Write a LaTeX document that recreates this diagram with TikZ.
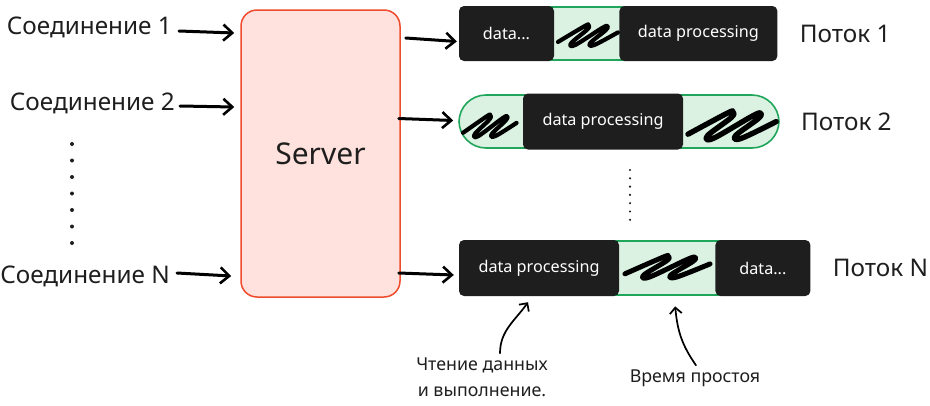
\documentclass[tikz,border=0pt]{standalone}
\usepackage{fontspec}
\setmainfont{Noto Sans}
\usetikzlibrary{arrows.meta,positioning,fit,calc,backgrounds}
\definecolor{Ink}{RGB}{30,30,30}
\definecolor{ServerFill}{RGB}{255,226,221}
\definecolor{ServerLine}{RGB}{238,76,44}
\definecolor{IdleFill}{RGB}{219,242,227}
\definecolor{IdleLine}{RGB}{32,166,90}
\tikzset{
  lbl/.style={font=\fontsize{24.3}{28}\selectfont,text=Ink,inner sep=2pt},
  notelbl/.style={font=\fontsize{17.8}{26}\selectfont,text=Ink,align=center,inner sep=2pt},
  serverbox/.style={fill=ServerFill,draw=ServerLine,line width=1.5pt,rounded corners=16pt,minimum width=159pt,minimum height=287pt,font=\fontsize{30}{36}\selectfont,text=Ink},
  darkbox/.style={fill=Ink,rounded corners=5pt,text=white,font=\fontsize{16.2}{19}\selectfont,minimum height=55pt,inner sep=0pt},
  lanepill/.style={fill=IdleFill,draw=IdleLine,line width=1.6pt,rounded corners=27pt,minimum width=320pt,minimum height=53pt,inner sep=0pt},
  idlegap/.style={fill=IdleFill,inner xsep=6pt,inner ysep=0pt},
  idleedge/.style={draw=IdleLine,line width=2pt},
  hand/.style={line width=3pt,line cap=round,-{Straight Barb[length=9pt,width=16pt,line width=2.6pt]}},
  notearrow/.style={line width=1.7pt,line cap=round,-{Straight Barb[length=6pt,width=12pt]}},
  scribline/.style={line width=4.2pt,line cap=round,line join=round},
  scribble/.pic={\draw[scribline] plot[smooth,tension=0.6] coordinates {(0,18) (28,3) (32,2) (31,6) (14,19) (18,21) (46,5) (52,3) (50,7) (34,19) (38,21) (63,9)};}
}
\begin{document}
\begin{tikzpicture}[x=1pt,y=-1pt]
\useasboundingbox (0,0) rectangle (930,405);

% connections and server
\node[lbl,anchor=east] (c1) at (174,27) {Соединение 1};
\node[lbl,anchor=east] (c2) at (177,103) {Соединение 2};
\node[lbl,anchor=east] (cN) at (172,276) {Соединение N};
\foreach \i in {0,...,6}
  \fill[Ink] (72,144+16.5*\i) circle (2);
\node[serverbox] (server) at (320.5,153.5) {Server};

% threads
\node[darkbox,minimum width=95pt] (t1read) at (506.5,33.5) {data...};
\node[darkbox,minimum width=158pt,right=65pt of t1read] (t1proc) {data processing};
\node[lanepill] (t2lane) at (619,121.5) {};
\node[darkbox,minimum width=160pt,minimum height=56pt] (t2proc) at ([xshift=-16pt]t2lane.center) {data processing};
\node[darkbox,minimum width=160pt,minimum height=56pt] (tNproc) at (539,268) {data processing};
\node[darkbox,minimum width=95pt,minimum height=56pt,right=96pt of tNproc] (tNdata) {data...};
\begin{scope}[on background layer]
  \node[idlegap,fit=(t1read.north east)(t1proc.south west)] (t1gap) {};
  \node[idlegap,fit=(tNproc.north east)(tNdata.south west)] (tNgap) {};
  \draw[idleedge] ([yshift=-1pt]t1gap.north west) -- ([yshift=-1pt]t1gap.north east);
  \draw[idleedge] ([yshift=1pt]t1gap.south west) -- ([yshift=1pt]t1gap.south east);
  \draw[idleedge] ([yshift=-1pt]tNgap.north west) -- ([yshift=-1pt]tNgap.north east);
  \draw[idleedge] ([yshift=1pt]tNgap.south west) -- ([yshift=1pt]tNgap.south east);
\end{scope}
\pic[xscale=0.95,yscale=1.05] at (558,23) {scribble};
\pic[xscale=0.85,yscale=1.1] at (463,113) {scribble};
\pic[xscale=1.4,yscale=1.4,scribline/.append style={line width=5.4pt}] at (688,109) {scribble};
\pic[xscale=1.35,yscale=1.1,scribline/.append style={line width=5pt}] at (625,254) {scribble};
\foreach \i in {0,...,6}
  \fill[Ink] (630,170+8.3*\i) circle (1.2);

\node[lbl,right=20pt of t1proc] (p1) {Поток 1};
\node[lbl,right=19pt of t2lane] (p2) {Поток 2};
\node[lbl,right=20pt of tNdata] (pN) {Поток N};

% arrows in
\draw[hand] ($(c1.east)+(5pt,-4pt)$) -- ($(server.west |- c1.east)+(-6pt,-6pt)$);
\draw[hand] ($(c2.east)+(3pt,-3pt)$) -- ($(server.west |- c2.east)+(-6pt,-4pt)$);
\draw[hand] ($(cN.east)+(5pt,3pt)$) -- ($(server.west |- cN.east)+(-9pt,0pt)$);
% arrows out
\draw[hand] ($(server.east |- t1read.west)+(5pt,-4.5pt)$) -- ($(t1read.west)+(-2pt,-8pt)$);
\draw[hand] ($(server.east |- t2lane.west)+(-2pt,3pt)$) -- ($(t2lane.west)+(-5pt,1pt)$);
\draw[hand] ($(server.east |- tNproc.west)+(-2pt,-5pt)$) -- ($(tNproc.west)+(-5pt,-7pt)$);

% notes
\node[notelbl] (readlbl) at (482,377) {Чтение данных\\и выполнение.};
\node[notelbl] (idlelbl) at (695,378) {Время простоя};
\draw[notearrow] ($(readlbl.north)+(18pt,2pt)$) to[out=90,in=235] ($(tNproc.south)+(-11pt,-6pt)$);
\draw[notearrow] ($(idlelbl.north)+(1pt,2pt)$) to[out=125,in=-85] ($(tNgap.south)+(8pt,-10pt)$);
\end{tikzpicture}
\end{document}
